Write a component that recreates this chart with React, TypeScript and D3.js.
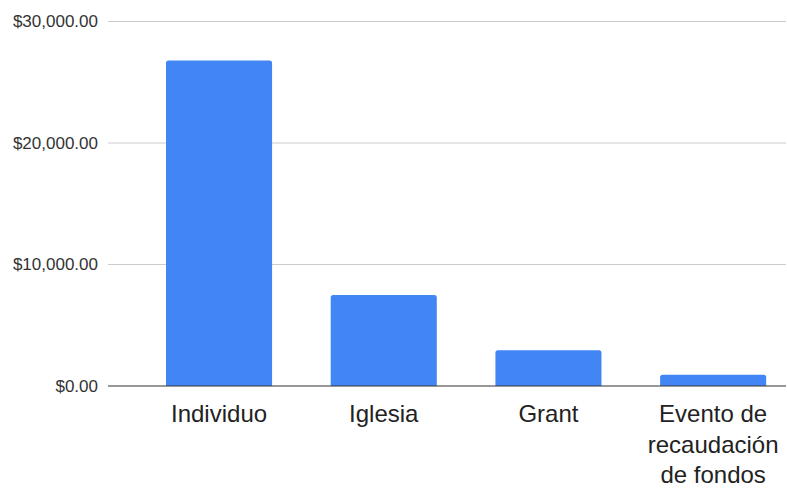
import React, { useEffect, useRef } from 'react';
import * as d3 from 'd3';

const categories = ['Individuo', 'Iglesia', 'Grant', 'Evento de recaudación de fondos'];
const amounts = [26800, 7500, 2950, 930];
const yTicks = [0, 10000, 20000, 30000];

const width = 787;
const height = 488;

const App = () => {
  const ref = useRef<SVGSVGElement | null>(null);

  useEffect(() => {
    if (!ref.current) return;
    const svg = d3.select(ref.current);
    svg.selectAll('*').remove();

    const gridLeft = 108;
    const gridRight = 786;
    const y = d3.scaleLinear().domain([0, 30000]).range([386, 21.5]);
    const x = d3.scaleBand<string>()
      .domain(categories)
      .range([136.7, 795.5])
      .paddingInner(0.356)
      .paddingOuter(0.178);

    const fmt = (v: number) => '$' + d3.format(',.2f')(v);

    // gridlines
    svg.append('g')
      .selectAll('line')
      .data(yTicks.filter(t => t > 0))
      .enter().append('line')
      .attr('x1', gridLeft)
      .attr('x2', gridRight)
      .attr('y1', d => y(d))
      .attr('y2', d => y(d))
      .attr('stroke', '#cccccc')
      .attr('stroke-width', 1);

    // tick labels
    svg.append('g')
      .selectAll('text')
      .data(yTicks)
      .enter().append('text')
      .attr('x', 98)
      .attr('y', d => y(d))
      .attr('dy', '0.35em')
      .attr('text-anchor', 'end')
      .style('font-family', 'Arial, "Liberation Sans", sans-serif')
      .style('font-size', '17px')
      .style('fill', '#333')
      .text(d => fmt(d));

    // bars (rounded top corners)
    const r = 2.5;
    svg.append('g')
      .selectAll('path')
      .data(categories.map((c, i) => ({ c, v: amounts[i] })))
      .enter().append('path')
      .attr('fill', '#4285f4')
      .attr('d', d => {
        const x0 = x(d.c)!;
        const x1 = x0 + x.bandwidth();
        const y0 = y(0);
        const y1 = y(d.v);
        return `M${x0},${y0}V${y1 + r}Q${x0},${y1} ${x0 + r},${y1}H${x1 - r}Q${x1},${y1} ${x1},${y1 + r}V${y0}Z`;
      });

    // baseline
    svg.append('line')
      .attr('x1', gridLeft)
      .attr('x2', gridRight)
      .attr('y1', y(0))
      .attr('y2', y(0))
      .attr('stroke', '#333')
      .attr('stroke-width', 1.2);

    // category labels, wrapped
    const maxW = 145;
    const labels = svg.append('g')
      .selectAll('text')
      .data(categories)
      .enter().append('text')
      .attr('text-anchor', 'middle')
      .attr('x', d => x(d)! + x.bandwidth() / 2)
      .attr('y', 422)
      .style('font-family', 'Arial, "Liberation Sans", sans-serif')
      .style('font-size', '24px')
      .style('fill', '#222');

    labels.each(function (d) {
      const t = d3.select(this);
      const cx = x(d)! + x.bandwidth() / 2;
      const words = d.split(' ');
      let line: string[] = [];
      let tspan = t.append('tspan').attr('x', cx).attr('dy', 0);
      words.forEach(w => {
        line.push(w);
        tspan.text(line.join(' '));
        if ((tspan.node() as SVGTSpanElement).getComputedTextLength() > maxW && line.length > 1) {
          line.pop();
          tspan.text(line.join(' '));
          line = [w];
          tspan = t.append('tspan').attr('x', cx).attr('dy', 30.5).text(w);
        }
      });
    });
  }, []);

  return <svg ref={ref} width={width} height={height} style={{ position: 'absolute', left: 0, top: 0 }}></svg>;
};

export default App;
